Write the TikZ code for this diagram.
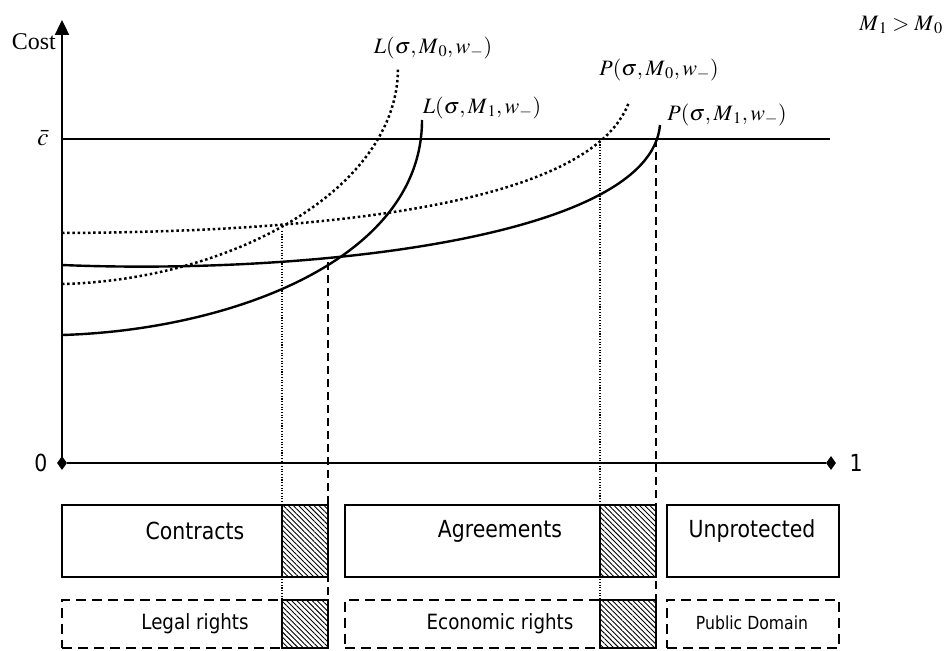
\documentclass[tikz,border=0pt]{standalone}
\usepackage{mathptmx}
\usepackage{fontspec}
\setmainfont{Liberation Serif}
\newfontfamily\boxfont[FakeStretch=0.87]{DejaVu Sans}
\usetikzlibrary{patterns.meta,arrows.meta,shapes.geometric}

\tikzset{
  axisline/.style={line width=2.4pt},
  curve/.style={line width=2.4pt},
  dotcurve/.style={line width=2.5pt, dash pattern=on 2.5pt off 2.7pt},
  thindot/.style={line width=1.1pt, dash pattern=on 1.1pt off 1.6pt},
  dashvert/.style={line width=2pt, dash pattern=on 8pt off 5pt},
  solidbox/.style={draw, line width=2.3pt},
  dashbox/.style={draw, line width=2.3pt, dash pattern=on 10pt off 6pt},
  hatch/.style={pattern={Lines[angle=-45,distance=3.6pt,line width=0.9pt]}},
  boxtext/.style={font=\boxfont\fontsize{23.5}{27}\selectfont},
  smalltext/.style={font=\boxfont\fontsize{21}{25}\selectfont},
  tinytext/.style={font=\boxfont\fontsize{18}{22}\selectfont},
  lbl/.style={font=\fontsize{22}{26}\selectfont, inner sep=0pt},
  endmark/.style={diamond, fill=black, inner sep=0pt, minimum width=10pt, minimum height=14pt},
}

\begin{document}
\begin{tikzpicture}[x=1pt,y=-1pt]
\useasboundingbox (0,0) rectangle (952,650);

% axes
\coordinate (origin) at (62,463);
\coordinate (ytop) at (62,20);
\draw[axisline,-{Triangle[length=15pt,width=14pt]}] (origin) -- (ytop);
\node[font=\fontsize{24}{28}\selectfont, anchor=east, inner sep=0pt] (cost) at (56,42) {Cost};
\node[endmark] (d0) at (62,463) {};
\node[endmark] (d1) at (831,463) {};
\draw[axisline] (d0) -- (d1);
\node[boxtext, inner sep=0pt] (zero) at (41,463) {0};
\node[boxtext, inner sep=0pt] (one) at (856,463) {1};

% c bar
\coordinate (cl) at (62,139);
\coordinate (cr) at (830,139);
\draw[axisline] (cl) -- (cr);
\node[font=\fontsize{25}{29}\selectfont, inner sep=0pt] (cbar) at (43,138) {$\bar{c}$};

% curves
\draw[dotcurve] (62,284) .. controls (230,280) and (398,190) .. (398,68);
\draw[curve] (62,335) .. controls (230,330) and (422,260) .. (422,120);
\draw[dotcurve] (62,233) .. controls (300,232) and (590,210) .. (629,102);
\draw[curve] (62,265) .. controls (300,275) and (650,240) .. (660,125);

% curve labels
\node[lbl] (lm0) at (433,48) {$L(\sigma, M_{\,0}, w_{-})$};
\node[lbl] (lm1) at (482,108) {$L(\sigma, M_{\,1}, w_{-})$};
\node[lbl] (pm0) at (659,70) {$P(\sigma, M_{\,0}, w_{-})$};
\node[lbl] (pm1) at (727,115) {$P(\sigma, M_{\,1}, w_{-})$};
\node[lbl] (mcmp) at (901,25) {$M_{\,1} > M_{\,0}$};

% boxes row 1
\fill[hatch] (282,505) rectangle (328,577);
\fill[hatch] (600,505) rectangle (656,577);
\node[solidbox, minimum width=266pt, minimum height=72pt, inner sep=0pt] (contracts) at (195,541) {};
\node[solidbox, minimum width=311pt, minimum height=72pt, inner sep=0pt] (agreements) at (500.5,541) {};
\node[solidbox, minimum width=172pt, minimum height=72pt, inner sep=0pt] (unprot) at (753,541) {};
\draw[line width=2.3pt] (282,505) -- (282,577);
\draw[line width=2.3pt] (600,505) -- (600,577);
\node[boxtext] (tcontracts) at (195,531) {Contracts};
\node[boxtext] (tagree) at (500,531) {Agreements};
\node[boxtext] (tunprot) at (752,531) {Unprotected};

% boxes row 2
\node[dashbox, minimum width=220pt, minimum height=48pt, inner sep=0pt] (legal) at (172,624) {};
\node[solidbox, hatch, minimum width=46pt, minimum height=48pt, inner sep=0pt] (legalh) at (305,624) {};
\node[dashbox, minimum width=255pt, minimum height=48pt, inner sep=0pt] (econ) at (472.5,624) {};
\node[solidbox, hatch, minimum width=56pt, minimum height=48pt, inner sep=0pt] (econh) at (628,624) {};
\node[dashbox, minimum width=172pt, minimum height=48pt, inner sep=0pt] (pubdom) at (753,624) {};
\node[smalltext] (tlegal) at (195,624) {Legal rights};
\node[smalltext] (tecon) at (500,624) {Economic rights};
\node[tinytext] (tpub) at (752,623) {Public Domain};

% vertical guides
\coordinate (v1t) at (282,231);
\coordinate (v1b) at (282,648);
\coordinate (v2t) at (328,262);
\coordinate (v2b) at (328,648);
\coordinate (v3t) at (600,139);
\coordinate (v3b) at (600,648);
\coordinate (v4t) at (656,139);
\coordinate (v4b) at (656,648);
\draw[thindot] (v1t) -- (v1b);
\draw[dashvert] (v2t) -- (v2b);
\draw[thindot] (v3t) -- (v3b);
\draw[dashvert] (v4t) -- (v4b);
\end{tikzpicture}
\end{document}
